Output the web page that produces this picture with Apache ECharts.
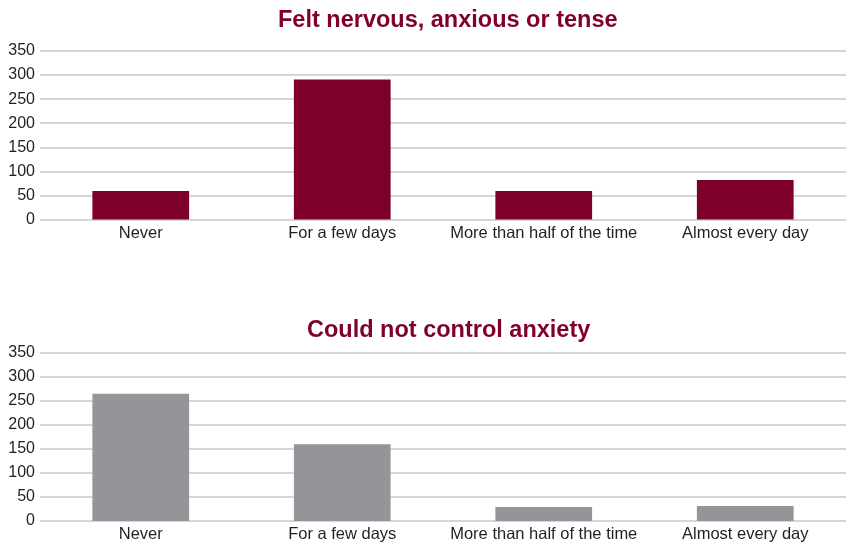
<!DOCTYPE html>
<html>
<head>
<meta charset="utf-8">
<script src="https://cdn.jsdelivr.net/npm/echarts@6/dist/echarts.min.js"></script>
<style>
  html, body { margin: 0; padding: 0; background: #fff; }
  #chart { width: 846px; height: 543px; }
</style>
</head>
<body>
<div id="chart"></div>
<script>
// Response categories shared by both panels
const categories = ['Never', 'For a few days', 'More than half of the time', 'Almost every day'];
// Counts per response
const nervousValues = [59, 291, 59, 82];
const controlValues = [265, 160, 29, 31];
// Value axis ticks
const yTicks = [0, 50, 100, 150, 200, 250, 300, 350];
const titles = ['Felt nervous, anxious or tense', 'Could not control anxiety'];

const FONT = '"Liberation Sans", Arial, sans-serif';
const TEXT = '#231f20';
const GRID_LINE = '#c9c9cb';
const TITLE_STYLE = { color: '#7f0029', fontFamily: FONT, fontSize: 23.5, fontWeight: 'bold' };

function xAxis(gridIndex) {
  return {
    type: 'category', gridIndex, data: categories,
    axisLine: { show: false }, axisTick: { show: false },
    axisLabel: { color: TEXT, fontFamily: FONT, fontSize: 16.5, margin: 5, interval: 0 }
  };
}
function yAxis(gridIndex) {
  return {
    type: 'value', gridIndex, min: yTicks[0], max: yTicks[yTicks.length - 1],
    interval: yTicks[1] - yTicks[0],
    axisLine: { show: false }, axisTick: { show: false },
    axisLabel: { color: TEXT, fontFamily: FONT, fontSize: 16, margin: 5 },
    splitLine: { lineStyle: { color: GRID_LINE, width: 1.5 } }
  };
}

const chart = echarts.init(document.getElementById('chart'), null, { renderer: 'canvas' });
chart.setOption({
  animation: false,
  backgroundColor: '#ffffff',
  title: [
    { text: titles[0], left: 273, top: 4, textStyle: TITLE_STYLE },
    { text: titles[1], left: 302, top: 314, textStyle: TITLE_STYLE }
  ],
  grid: [
    { left: 40, right: 0, top: 51, height: 168.5 },
    { left: 40, right: 0, top: 353, height: 168 }
  ],
  xAxis: [xAxis(0), xAxis(1)],
  yAxis: [yAxis(0), yAxis(1)],
  series: [
    { type: 'bar', xAxisIndex: 0, yAxisIndex: 0, data: nervousValues,
      barWidth: '48%', itemStyle: { color: '#7d0028' } },
    { type: 'bar', xAxisIndex: 1, yAxisIndex: 1, data: controlValues,
      barWidth: '48%', itemStyle: { color: '#939598' } }
  ]
});
</script>
</body>
</html>
